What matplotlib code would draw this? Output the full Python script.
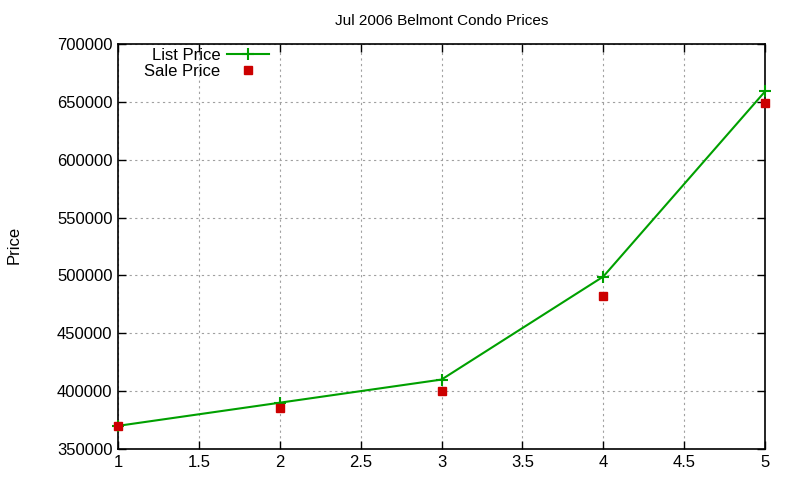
import matplotlib
matplotlib.use('Agg')
import matplotlib.pyplot as plt

# data
x_vals = [1, 2, 3, 4, 5]
list_price = [370000, 390000, 410000, 499000, 659000]
sale_price = [370000, 385000, 400000, 482000, 649000]

plt.rcParams['font.family'] = ['Liberation Sans', 'DejaVu Sans']

fig = plt.figure(figsize=(8, 4.8), dpi=100)
ax = fig.add_axes([0.1475, 0.0646, 0.8088, 0.8437])

ax.plot(x_vals, list_price, color='#00a000', linewidth=1.5, marker='+',
        markersize=9, markeredgewidth=1.5, label='List Price', clip_on=False,
        zorder=3)
ax.plot(x_vals, sale_price, color='#cc0000', linestyle='none', marker='s',
        markersize=6, label='Sale Price', clip_on=False, zorder=4)

ax.set_xlim(1, 5)
ax.set_ylim(350000, 700000)
ax.set_xticks([1, 1.5, 2, 2.5, 3, 3.5, 4, 4.5, 5])
ax.set_xticklabels(['1', '1.5', '2', '2.5', '3', '3.5', '4', '4.5', '5'])
ax.set_yticks(range(350000, 700001, 50000))
ax.set_yticklabels([str(v) for v in range(350000, 700001, 50000)])

ax.grid(True, color='#a0a0a0', linestyle=(0, (2, 3)), linewidth=0.8)
ax.tick_params(direction='in', top=True, right=True, labelsize=12,
               length=6, width=1, pad=4)
for s in ax.spines.values():
    s.set_linewidth(1.2)

ax.set_title('Jul 2006 Belmont Condo Prices', fontsize=11, pad=14)
fig.text(0.008, 0.49, 'Price', rotation=90, fontsize=12, va='center')

ax.legend(loc='upper left', markerfirst=False, frameon=False, fontsize=12,
          borderaxespad=0.1, handlelength=2.5, labelspacing=0.05,
          handletextpad=0.4, bbox_to_anchor=(0.028, 1.01))

fig.savefig('out.png', dpi=100)
